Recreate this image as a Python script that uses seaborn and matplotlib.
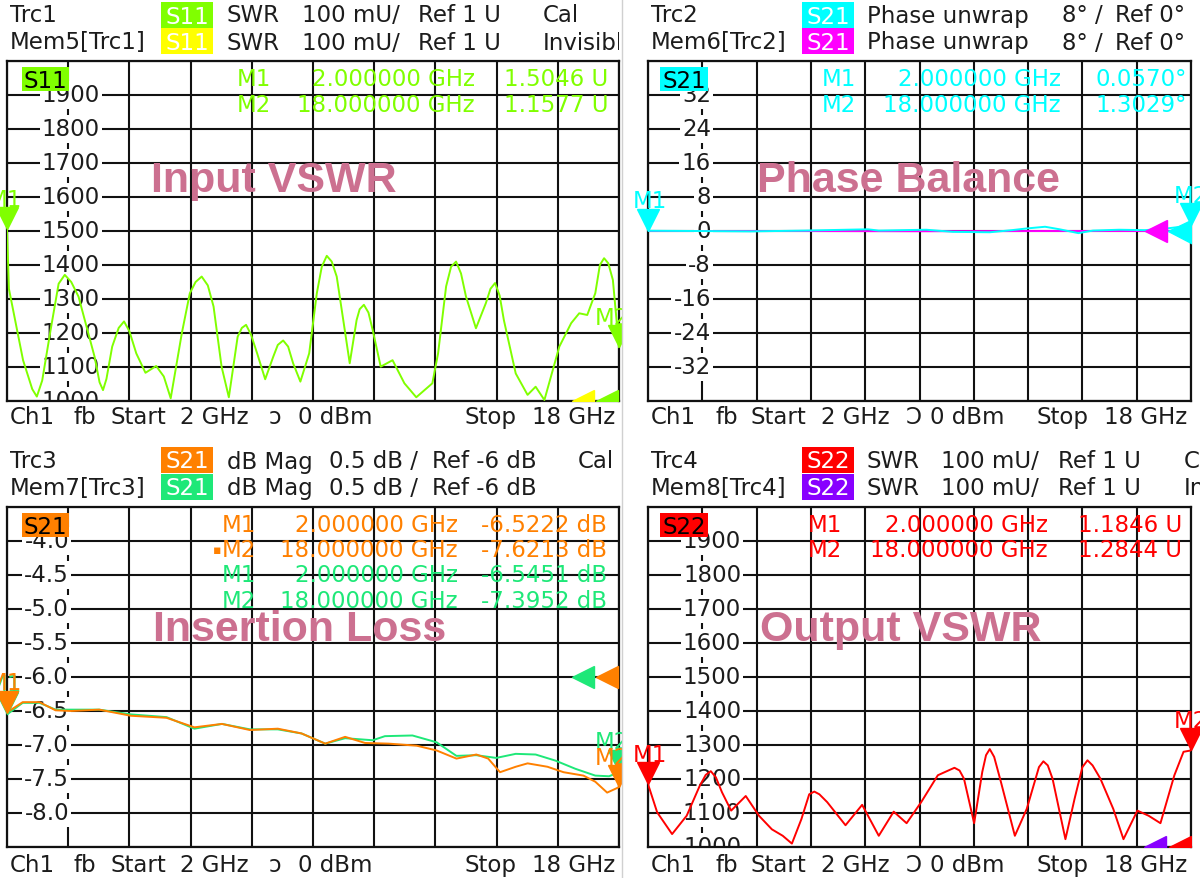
import numpy as np
import matplotlib
matplotlib.use("Agg")
import matplotlib.pyplot as plt
import seaborn as sns
from matplotlib.patches import Rectangle
from matplotlib.lines import Line2D
from matplotlib.transforms import Bbox, TransformedBbox, offset_copy, blended_transform_factory

# ---- traces (GHz vs. mU / deg / dB) ----
s11_freq = [2.0, 2.05, 2.42, 2.66, 2.78, 2.92, 3.14, 3.35, 3.51, 3.68,
            3.87, 4.29, 4.42, 4.51, 4.60, 4.75, 4.92, 5.06, 5.20, 5.38,
            5.62, 5.90, 6.10, 6.28, 6.57, 6.78, 6.93, 7.09, 7.25, 7.40,
            7.61, 7.80, 8.03, 8.14, 8.25, 8.38, 8.54, 8.75, 8.96, 9.08,
            9.22, 9.35, 9.48, 9.67, 9.90, 10.10, 10.23, 10.36, 10.49, 10.62,
            10.83, 10.96, 11.14, 11.22, 11.33, 11.45, 11.56, 11.77, 12.08, 12.39,
            12.70, 13.12, 13.27, 13.48, 13.61, 13.74, 13.87, 14.00, 14.26, 14.52,
            14.64, 14.76, 14.88, 14.99, 15.30, 15.61, 15.82, 16.05, 16.44, 16.75,
            16.96, 17.17, 17.38, 17.50, 17.61, 17.72, 17.84, 18.0]
s11_swr = [1505, 1330, 1120, 1035, 1013, 1060, 1209, 1345, 1371, 1350,
           1307, 1130, 1055, 1032, 1065, 1160, 1215, 1234, 1205, 1140,
           1083, 1103, 1072, 1008, 1199, 1317, 1350, 1366, 1340, 1278,
           1101, 1011, 1189, 1215, 1224, 1195, 1140, 1064, 1130, 1165,
           1178, 1160, 1111, 1057, 1140, 1317, 1395, 1427, 1410, 1366,
           1209, 1111, 1238, 1270, 1283, 1260, 1209, 1101, 1120, 1052,
           1011, 1052, 1140, 1337, 1395, 1410, 1375, 1307, 1214, 1288,
           1330, 1347, 1310, 1238, 1081, 1018, 1042, 1003, 1160, 1229,
           1258, 1253, 1317, 1400, 1420, 1405, 1356, 1158]

ph_freq = [2.0, 3.36, 5.0, 6.63, 8.48, 8.8, 10.2, 10.98, 12.07, 12.72,
           13.16, 13.70, 14.13, 14.68, 15.11, 15.88, 16.64, 17.29, 18.0]
ph_trc = [0.06, 0.0, -0.1, 0.1, 0.4, 0.1, 0.3, -0.2, -0.3, 0.2,
          0.6, 1.0, 0.4, -0.5, 0.1, 0.3, 0.2, 0.6, 1.3]
ph_mem_freq = [2.0, 6.0, 10.0, 14.0, 18.0]
ph_mem = [0.0, 0.0, -0.05, 0.0, 0.0]

il_freq = [2.0, 2.41, 2.85, 3.27, 3.68, 4.41, 5.24, 6.17, 6.90, 7.62,
           8.35, 9.08, 9.70, 10.32, 10.84, 11.36, 11.98, 12.71, 13.23, 13.75,
           14.27, 14.58, 14.89, 15.30, 15.61, 16.13, 16.55, 17.07, 17.38, 17.69, 18.0]
il_trc = [-6.52, -6.37, -6.37, -6.49, -6.50, -6.48, -6.57, -6.60, -6.74, -6.69,
          -6.78, -6.76, -6.83, -6.98, -6.88, -6.97, -6.98, -7.01, -7.08, -7.20,
          -7.14, -7.20, -7.40, -7.32, -7.27, -7.32, -7.40, -7.45, -7.54, -7.70, -7.62]
il_mem_freq = [2.0, 2.41, 2.85, 3.27, 4.41, 5.24, 6.17, 6.90, 7.62, 8.35,
               9.08, 9.70, 10.32, 10.84, 11.56, 11.88, 12.60, 13.23, 13.75, 14.27,
               14.79, 15.30, 15.82, 16.34, 16.86, 17.38, 17.74, 18.0]
il_mem = [-6.55, -6.38, -6.38, -6.48, -6.48, -6.55, -6.59, -6.76, -6.69, -6.77,
          -6.77, -6.83, -6.98, -6.90, -6.93, -6.87, -6.86, -6.96, -7.16, -7.15,
          -7.19, -7.13, -7.14, -7.23, -7.35, -7.45, -7.46, -7.40]

s22_freq = [2.0, 2.27, 2.71, 3.14, 3.52, 3.70, 3.85, 4.00, 4.18, 4.45,
            4.88, 5.27, 5.65, 5.97, 6.24, 6.52, 6.75, 6.90, 7.05, 7.28,
            7.82, 8.31, 8.80, 9.24, 9.62, 10.05, 10.54, 10.85, 11.03, 11.18,
            11.31, 11.61, 11.85, 11.96, 12.07, 12.20, 12.40, 12.81, 13.16, 13.52,
            13.65, 13.78, 13.92, 14.30, 14.57, 14.80, 14.95, 15.10, 15.33, 15.71,
            16.01, 16.42, 16.75, 17.10, 17.51, 17.78, 18.0]
s22_swr = [1185, 1102, 1038, 1092, 1179, 1212, 1223, 1205, 1161, 1107,
           1150, 1092, 1052, 1033, 1010, 1082, 1155, 1163, 1155, 1132,
           1064, 1124, 1033, 1104, 1070, 1132, 1211, 1225, 1233, 1225,
           1201, 1070, 1221, 1270, 1288, 1265, 1191, 1033, 1112, 1235,
           1252, 1240, 1201, 1023, 1142, 1235, 1255, 1240, 1201, 1112,
           1023, 1107, 1092, 1070, 1211, 1280, 1284]

# y-axis scale labels
swr_ticks = [1900, 1800, 1700, 1600, 1500, 1400, 1300, 1200, 1100, 1000]
swr_labels = ["1900", "1800", "1700", "1600", "1500", "1400", "1300", "1200", "1100", "1000"]
ph_ticks = [32, 24, 16, 8, 0, -8, -16, -24, -32]
ph_labels = ["32", "24", "16", "8", "0", "-8", "-16", "-24", "-32"]
il_ticks = [-4.0, -4.5, -5.0, -5.5, -6.0, -6.5, -7.0, -7.5, -8.0]
il_labels = ["-4.0", "-4.5", "-5.0", "-5.5", "-6.0", "-6.5", "-7.0", "-7.5", "-8.0"]

# marker readouts
s11_mk = [("M1", "2.000000 GHz", "1.5046 U"), ("M2", "18.000000 GHz", "1.1577 U")]
ph_mk = [("M1", "2.000000 GHz", "0.0570°"), ("M2", "18.000000 GHz", "1.3029°")]
il_mk = [("M1", "2.000000 GHz", "-6.5222 dB"), ("M2", "18.000000 GHz", "-7.6213 dB"),
         ("M1", "2.000000 GHz", "-6.5451 dB"), ("M2", "18.000000 GHz", "-7.3952 dB")]
s22_mk = [("M1", "2.000000 GHz", "1.1846 U"), ("M2", "18.000000 GHz", "1.2844 U")]

GREEN = "#80ff00"
YELLOW = "#ffff00"
CYAN = "#00ffff"
MAGENTA = "#ff00ff"
ORANGE = "#ff8000"
MEMGREEN = "#1ee878"
RED = "#ff0000"
PURPLE = "#8800ff"
TITLE = "#cc7090"
INK = "#1c1c1c"

sns.set_style("white")
plt.rcParams["font.family"] = ["DejaVu Sans"]

W, H = 1200, 879
fig = plt.figure(figsize=(12, 8.79), dpi=100)
fig.patch.set_facecolor("white")


def fx(x):
    return x / W


def fy(y):
    return 1 - y / H


def put(x, y, s, color=INK, size=16.5, ha="left", **kw):
    return fig.text(fx(x), fy(y), s, color=color, fontsize=size, ha=ha, va="center", zorder=8, **kw)


def tag(x, y0, s, bg, fg="white", w=52, h=26):
    fig.add_artist(Rectangle((fx(x), fy(y0 + h)), w / W, h / H, transform=fig.transFigure,
                             facecolor=bg, edgecolor="none", zorder=7))
    put(x + w / 2, y0 + h / 2 + 1, s, color=fg, ha="center")


def panel(x0, y0, x1, y1, ylim):
    ax = fig.add_axes([fx(x0), fy(y1), (x1 - x0) / W, (y1 - y0) / H])
    ax.set_xlim(2, 18)
    ax.set_ylim(*ylim)
    ax.set_xticks(np.linspace(2, 18, 11))
    ax.set_yticks(np.linspace(ylim[0], ylim[1], 11))
    ax.tick_params(length=0, labelbottom=False, labelleft=False)
    ax.grid(True, color="#111111", lw=1.5)
    ax.set_axisbelow(True)
    for sp in ax.spines.values():
        sp.set_visible(True)
        sp.set_color("#111111")
        sp.set_linewidth(1.6)
    return ax


def ylabels(ax, vals, labels, xpix, ha):
    tr = blended_transform_factory(fig.transFigure, ax.transData)
    for v, s in zip(vals, labels):
        ax.text(fx(xpix), v, s, transform=tr, ha=ha, va="center", fontsize=16.5, color=INK,
                zorder=1, clip_on=True,
                bbox=dict(boxstyle="square,pad=0.1", fc="white", ec="none"))


def trace(ax, f, v, color):
    sns.lineplot(x=f, y=v, ax=ax, color=color, lw=1.4, zorder=3, sort=False, estimator=None)
    ax.set_xlabel("")
    ax.set_ylabel("")


def marker(ax, f, v, color, label, dx, clip=None):
    tr = offset_copy(ax.transData, fig=fig, x=0, y=11, units="dots")
    ln, = ax.plot([f], [v], marker="v", ms=16, color=color, ls="none", transform=tr,
                  clip_on=False, zorder=6)
    t = ax.annotate(label, (f, v), xytext=(dx, 30), textcoords="offset pixels", color=color,
                    fontsize=16.5, ha="center", va="center", annotation_clip=False, zorder=6)
    if clip is not None:
        for a in (ln, t):
            a.set_clip_path(None)
            a.set_clip_box(clip)
            a.set_clip_on(True)


def refarrow(ax, f, v, color, ms=16):
    ax.plot([f], [v], marker="<", ms=ms, color=color, ls="none", zorder=5)


def readout(rows, ys, colors, xm, xf, xv):
    for (m, fq, val), y, c in zip(rows, ys, colors):
        put(xm, y, m, color=c)
        put(xf, y, fq, color=c, ha="right")
        put(xv, y, val, color=c, ha="right")


def footer(y, xs, sym):
    words = ["Ch1", "fb", "Start", "2 GHz", sym, "0 dBm", "Stop", "18 GHz"]
    for x, s in zip(xs, words):
        put(x, y, s)


clip_left = TransformedBbox(Bbox.from_extents(0, 0, fx(622), 1), fig.transFigure)
clip_head = TransformedBbox(Bbox.from_extents(0, 0, fx(619), 1), fig.transFigure)

# ---------------- top left: input VSWR ----------------
ax1 = panel(7, 62, 619, 402, (1000, 2000))
trace(ax1, s11_freq, s11_swr, GREEN)
ylabels(ax1, swr_ticks, swr_labels, 71, "center")
refarrow(ax1, 17.06, 1000, YELLOW)
refarrow(ax1, 17.69, 1000, GREEN)
marker(ax1, 2.0, 1504.6, GREEN, "M1", -2)
marker(ax1, 18.0, 1157.7, GREEN, "M2", -7, clip=clip_left)

# ---------------- top right: phase balance ----------------
ax2 = panel(648, 62, 1191, 402, (-40, 40))
trace(ax2, ph_mem_freq, ph_mem, MAGENTA)
trace(ax2, ph_freq, ph_trc, CYAN)
ylabels(ax2, ph_ticks, ph_labels, 711, "right")
refarrow(ax2, 16.97, 0, MAGENTA)
refarrow(ax2, 17.68, 0, CYAN, ms=18)
marker(ax2, 2.0, 0.057, CYAN, "M1", 2)
marker(ax2, 18.0, 1.3029, CYAN, "M2", 0)

# ---------------- bottom left: insertion loss ----------------
ax3 = panel(7, 508, 619, 848, (-8.5, -3.5))
trace(ax3, il_mem_freq, il_mem, MEMGREEN)
trace(ax3, il_freq, il_trc, ORANGE)
ylabels(ax3, il_ticks, il_labels, 69, "right")
refarrow(ax3, 17.06, -6.0, MEMGREEN)
refarrow(ax3, 17.69, -6.0, ORANGE)
marker(ax3, 2.0, -6.5451, MEMGREEN, "M1", -2)
marker(ax3, 18.0, -7.3952, MEMGREEN, "M2", -7, clip=clip_left)
marker(ax3, 2.0, -6.5222, ORANGE, "M1", -2)
marker(ax3, 18.0, -7.6213, ORANGE, "M2", -7, clip=clip_left)

# ---------------- bottom right: output VSWR ----------------
ax4 = panel(648, 508, 1191, 848, (1000, 2000))
trace(ax4, s22_freq, s22_swr, RED)
ylabels(ax4, swr_ticks, swr_labels, 712, "center")
refarrow(ax4, 16.94, 1000, PURPLE)
refarrow(ax4, 17.68, 1000, RED)
marker(ax4, 2.0, 1184.6, RED, "M1", 2)
marker(ax4, 18.0, 1284.4, RED, "M2", 0)

# ---------------- headers ----------------
put(10, 16, "Trc1")
tag(161, 3, "S11", GREEN)
for x, s in [(226, "SWR"), (302, "100 mU/"), (418, "Ref 1 U"), (543, "Cal")]:
    put(x, 16, s)
put(10, 43, "Mem5[Trc1]")
tag(161, 29, "S11", YELLOW)
for x, s in [(226, "SWR"), (302, "100 mU/"), (418, "Ref 1 U")]:
    put(x, 43, s)
inv = put(543, 43, "Invisible")
inv.set_clip_box(clip_head)
inv.set_clip_on(True)

put(651, 16, "Trc2")
tag(802, 3, "S21", CYAN)
put(651, 43, "Mem6[Trc2]")
tag(802, 29, "S21", MAGENTA)
for y in (16, 43):
    for x, s in [(867, "Phase unwrap"), (1062, "8° /"), (1115, "Ref 0°")]:
        put(x, y, s)

put(10, 462, "Trc3")
tag(161, 448, "S21", ORANGE)
put(10, 489, "Mem7[Trc3]")
tag(161, 475, "S21", MEMGREEN)
for y in (462, 489):
    for x, s in [(227, "dB Mag"), (329, "0.5 dB /"), (432, "Ref -6 dB")]:
        put(x, y, s)
put(578, 462, "Cal")

put(651, 462, "Trc4")
tag(802, 448, "S22", RED)
put(651, 489, "Mem8[Trc4]")
tag(802, 475, "S22", PURPLE)
for y in (462, 489):
    for x, s in [(867, "SWR"), (941, "100 mU/"), (1058, "Ref 1 U")]:
        put(x, y, s)
put(1184, 462, "Cal")
put(1184, 489, "Invisible")

# trace tags inside the diagrams
tag(22, 68, "S11", GREEN, fg="black", w=47, h=24)
tag(660, 68, "S21", CYAN, fg="black", w=48, h=24)
tag(22, 514, "S21", ORANGE, fg="black", w=47, h=24)
tag(660, 514, "S22", RED, fg="black", w=48, h=24)

# marker readouts
readout(s11_mk, [80, 105], [GREEN, GREEN], 237, 475, 608)
readout(ph_mk, [80, 105], [CYAN, CYAN], 822, 1061, 1187)
readout(il_mk, [525, 551, 576, 602], [ORANGE, ORANGE, MEMGREEN, MEMGREEN], 222, 458, 607)
put(213, 551, "▪", color=ORANGE, size=9)
readout(s22_mk, [525, 551], [RED, RED], 808, 1048, 1182)

# diagram titles
for x, y, s in [(274, 181, "Input VSWR"), (909, 181, "Phase Balance"),
                (300, 630, "Insertion Loss"), (901, 630, "Output VSWR")]:
    fig.text(fx(x), fy(y), s, color=TITLE, fontsize=31, fontweight="bold",
             family="Liberation Sans", ha="center", va="center", zorder=9)

# channel footers
footer(418, [10, 73, 111, 180, 269, 298, 464, 532], "ɔ")
footer(866, [10, 73, 111, 180, 269, 298, 464, 532], "ɔ")
footer(418, [651, 715, 751, 821, 906, 930, 1037, 1104], "Ↄ")
footer(866, [651, 715, 751, 821, 906, 930, 1037, 1104], "Ↄ")

# thin separator between left and right halves
fig.add_artist(Line2D([fx(621.5), fx(621.5)], [0, 1], transform=fig.transFigure,
                      color="#d0d0d0", lw=1, zorder=1))

fig.savefig("out.png", dpi=100)
